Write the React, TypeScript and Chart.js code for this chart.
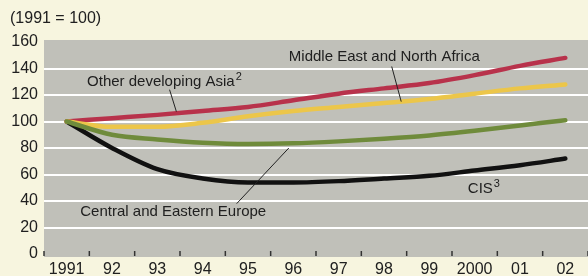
import React, { useEffect, useRef } from "react";
import { Chart, registerables } from "chart.js";

Chart.register(...registerables);

const years = ["1991", "92", "93", "94", "95", "96", "97", "98", "99", "2000", "01", "02"];
const middleEastNorthAfrica = [100, 102.5, 105, 108, 111, 116, 121, 125, 129, 135, 142, 148];
const otherDevelopingAsia = [100, 96, 96, 99, 104, 108, 111, 114, 117, 121, 125, 128];
const centralEasternEurope = [100, 90, 86.5, 84, 83, 83.5, 85, 87, 89.5, 93, 97, 101];
const cis = [100, 80, 64, 57, 54, 54, 55, 57, 59, 63, 67, 72];
const yTicks = [0, 20, 40, 60, 80, 100, 120, 140, 160];

const FONT = "'Liberation Sans', Arial, sans-serif";
const TEXT = "#202020";
const BG = "#f7f5df";
const PLOT = "#c0c0b9";

const decor = {
  id: "decor",
  beforeDraw(chart: any) {
    const { ctx, chartArea } = chart;
    ctx.save();
    ctx.fillStyle = BG;
    ctx.fillRect(0, 0, chart.width, chart.height);
    ctx.fillStyle = PLOT;
    ctx.fillRect(chartArea.left, chartArea.top - 2, chartArea.right - chartArea.left, chartArea.bottom - chartArea.top + 5);
    ctx.restore();
  },
  afterDatasetsDraw(chart: any) {
    const { ctx, chartArea } = chart;
    const xs = chart.scales.x;
    const ys = chart.scales.y;
    ctx.save();
    ctx.strokeStyle = "#333";
    ctx.lineWidth = 1.5;
    const n = years.length;
    const w = (xs.right - xs.left) / n;
    for (let i = 0; i <= n; i++) {
      const x = xs.left + i * w;
      ctx.beginPath();
      ctx.moveTo(x, chartArea.bottom - 3);
      ctx.lineTo(x, chartArea.bottom + 2);
      ctx.stroke();
    }
    ctx.fillStyle = TEXT;
    ctx.font = `15px ${FONT}`;
    ctx.textBaseline = "middle";
    ctx.textAlign = "left";
    const label = (t: string, xi: number, yv: number) => {
      ctx.fillText(t, xs.getPixelForValue(xi), ys.getPixelForValue(yv));
    };
    const sup = (t: string, s: string, xi: number, yv: number) => {
      const x = xs.getPixelForValue(xi);
      const y = ys.getPixelForValue(yv);
      ctx.font = `15px ${FONT}`;
      ctx.fillText(t, x, y);
      const tw = ctx.measureText(t).width;
      ctx.font = `11px ${FONT}`;
      ctx.fillText(s, x + tw + 1, y - 5);
      ctx.font = `15px ${FONT}`;
    };
    label("Middle East and North Africa", 4.9, 148.5);
    sup("Other developing Asia", "2", 0.45, 130);
    label("Central and Eastern Europe", 0.3, 32);
    sup("CIS", "3", 8.85, 49);
    ctx.strokeStyle = "#222";
    ctx.lineWidth = 1;
    const leader = (x1: number, y1: number, x2: number, y2: number) => {
      ctx.beginPath();
      ctx.moveTo(xs.getPixelForValue(x1), ys.getPixelForValue(y1));
      ctx.lineTo(xs.getPixelForValue(x2), ys.getPixelForValue(y2));
      ctx.stroke();
    };
    leader(7.17, 141.5, 7.38, 115);
    leader(2.27, 124, 2.42, 107.5);
    leader(3.75, 38, 4.9, 80);
    ctx.restore();
  },
};

export default function App() {
  const ref = useRef<HTMLCanvasElement | null>(null);
  useEffect(() => {
    document.body.style.margin = "0";
    document.body.style.background = BG;
    const line = (data: number[], color: string) => ({
      data,
      borderColor: color,
      borderWidth: 4.5,
      pointRadius: 0,
      tension: 0.4,
      cubicInterpolationMode: "monotone" as const,
      fill: false,
      borderCapStyle: "round" as const,
    });
    const chart = new Chart(ref.current!, {
      type: "line",
      data: {
        labels: years,
        datasets: [
          line(centralEasternEurope, "#6f8b3b"),
          line(otherDevelopingAsia, "#ecc64a"),
          line(middleEastNorthAfrica, "#b8324b"),
          line(cis, "#111111"),
        ],
      },
      options: {
        animation: false,
        responsive: false,
        devicePixelRatio: 1,
        layout: { padding: { top: 42, left: 0, right: 0, bottom: 0 } },
        plugins: {
          legend: { display: false },
          tooltip: { enabled: false },
          title: { display: false },
        },
        scales: {
          x: {
            type: "category",
            offset: true,
            grid: { display: false, drawTicks: false },
            border: { display: false },
            ticks: {
              color: TEXT,
              font: { family: FONT, size: 16 },
              padding: 6,
              maxRotation: 0,
              autoSkip: false,
            },
            afterFit: (s: any) => {
              s.height = 22;
            },
          },
          y: {
            min: 0,
            max: 160,
            afterBuildTicks: (s: any) => {
              s.ticks = yTicks.map((v) => ({ value: v }));
            },
            grid: {
              drawTicks: false,
              color: (c: any) => (c.tick && (c.tick.value === 0 || c.tick.value === 160) ? "rgba(0,0,0,0)" : "#ffffff"),
              lineWidth: 2,
            },
            border: { display: false },
            ticks: {
              color: TEXT,
              font: { family: FONT, size: 16 },
              padding: 6,
            },
            afterFit: (s: any) => {
              s.width = 44;
            },
          },
        },
      },
      plugins: [
        decor,
        {
          id: "subtitle",
          afterDraw(chart: any) {
            const { ctx } = chart;
            ctx.save();
            ctx.fillStyle = TEXT;
            ctx.font = `16px ${FONT}`;
            ctx.textBaseline = "middle";
            ctx.textAlign = "left";
            ctx.fillText("(1991 = 100)", 10, 19);
            ctx.restore();
          },
        },
      ],
    });
    return () => chart.destroy();
  }, []);
  return (
    <div style={{ width: 588, height: 276, background: BG }}>
      <canvas ref={ref} width={588} height={276} style={{ display: "block" }} />
    </div>
  );
}
